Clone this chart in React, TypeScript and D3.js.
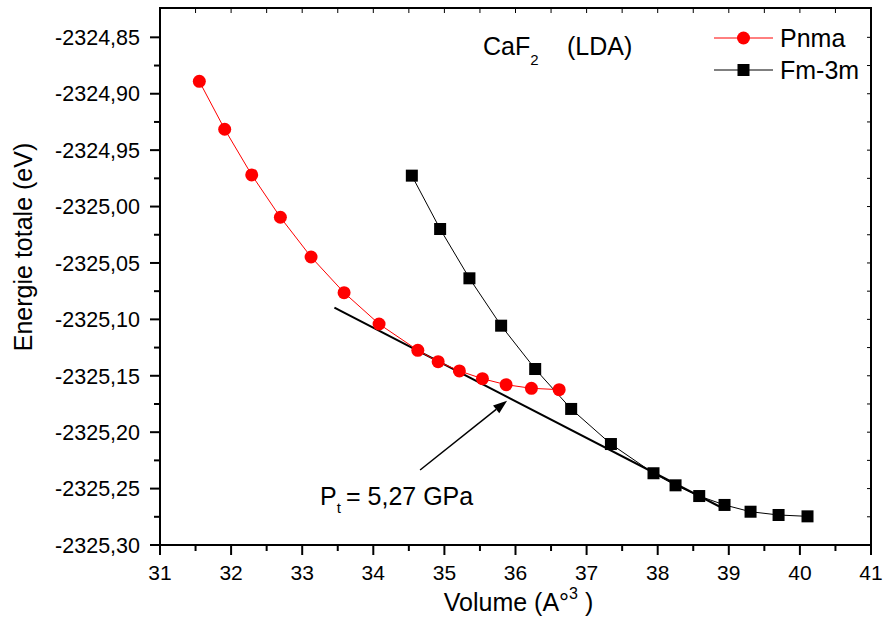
import React from "react";
import * as d3 from "d3";

const pnmaVolume = [31.553, 31.910, 32.290, 32.693, 33.125, 33.589, 34.081, 34.626, 34.912, 35.211, 35.535, 35.868, 36.224, 36.614];
const pnmaEnergy = [-2324.889, -2324.9315, -2324.972, -2325.0095, -2325.0447, -2325.0763, -2325.1041, -2325.1274, -2325.1375, -2325.1457, -2325.1526, -2325.1579, -2325.1611, -2325.1623];

const fm3mVolume = [34.542, 34.940, 35.352, 35.798, 36.277, 36.783, 37.342, 37.941, 38.251, 38.584, 38.940, 39.306, 39.700, 40.107];
const fm3mEnergy = [-2324.9726, -2325.0199, -2325.0636, -2325.1056, -2325.144, -2325.1794, -2325.2105, -2325.2364, -2325.2471, -2325.2566, -2325.2645, -2325.2705, -2325.2734, -2325.2746];

const tangentVolume = [33.453, 38.936];
const tangentEnergy = [-2325.0896, -2325.2681];

const arrowVolume = [34.658, 35.882];
const arrowEnergy = [-2325.2335, -2325.1721];

const xTicks = [31, 32, 33, 34, 35, 36, 37, 38, 39, 40, 41];
const yTicks = [-2324.85, -2324.9, -2324.95, -2325.0, -2325.05, -2325.1, -2325.15, -2325.2, -2325.25, -2325.3];
const yTickLabels = ["-2324,85", "-2324,90", "-2324,95", "-2325,00", "-2325,05", "-2325,10", "-2325,15", "-2325,20", "-2325,25", "-2325,30"];

const seriesNames = ["Pnma", "Fm-3m"];

const W = 884, H = 622;
const M = { left: 160, top: 8, right: 884 - 871, bottom: 622 - 545 };
const FONT = "'Liberation Sans', Arial, Helvetica, sans-serif";

export default function App() {
  const x = d3.scaleLinear().domain([31, 41]).range([M.left, W - M.right]);
  const y = d3.scaleLinear().domain([-2325.3, -2324.824]).range([H - M.bottom, M.top]);
  const x0 = x.range()[0], x1 = x.range()[1];
  const y0 = y.range()[0], y1 = y.range()[1];

  const xMinor = d3.range(31, 41.001, 0.5).filter((v) => Math.abs(v - Math.round(v)) > 0.1);
  const yMinor = d3.range(0, 20).map((i) => -2325.3 + 0.025 + i * 0.05).filter((v) => v < -2324.826);
  const xAll = d3.range(31, 41.001, 0.5);
  const yAll = d3.range(0, 20).map((i) => -2325.3 + i * 0.025).filter((v) => v < -2324.826);

  const line = d3.line<[number, number]>().x((d) => x(d[0])).y((d) => y(d[1]));
  const pnma = pnmaVolume.map((v, i) => [v, pnmaEnergy[i]] as [number, number]);
  const fm3m = fm3mVolume.map((v, i) => [v, fm3mEnergy[i]] as [number, number]);
  const tangent = tangentVolume.map((v, i) => [v, tangentEnergy[i]] as [number, number]);

  const ax0 = x(arrowVolume[0]), ay0 = y(arrowEnergy[0]);
  const ax1 = x(arrowVolume[1]), ay1 = y(arrowEnergy[1]);
  const ang = Math.atan2(ay1 - ay0, ax1 - ax0);
  const headL = 14, headW = 5;
  const bx = ax1 - headL * Math.cos(ang), by = ay1 - headL * Math.sin(ang);
  const head = [
    [ax1, ay1],
    [bx + headW * Math.sin(ang), by - headW * Math.cos(ang)],
    [bx - headW * Math.sin(ang), by + headW * Math.cos(ang)],
  ].map((p) => p.join(",")).join(" ");

  const legX0 = 714, legX1 = 773, legXm = (legX0 + legX1) / 2;

  return (
    <svg width={W} height={H} style={{ position: "absolute", left: 0, top: 0, background: "#fff" }} fontFamily={FONT}>
      <rect x={0} y={0} width={W} height={H} fill="#fff" />
      {/* tangent line */}
      <path d={line(tangent) || ""} stroke="#000" strokeWidth={2} fill="none" />
      {/* Fm-3m */}
      <path d={line(fm3m) || ""} stroke="#000" strokeWidth={1} fill="none" />
      {fm3m.map((d, i) => (
        <rect key={"s" + i} x={x(d[0]) - 6} y={y(d[1]) - 6} width={12} height={12} fill="#000" />
      ))}
      {/* Pnma */}
      <path d={line(pnma) || ""} stroke="#ff0000" strokeWidth={1} fill="none" />
      {pnma.map((d, i) => (
        <circle key={"c" + i} cx={x(d[0])} cy={y(d[1])} r={6.5} fill="#ff0000" />
      ))}
      {/* arrow */}
      <line x1={ax0} y1={ay0} x2={bx} y2={by} stroke="#000" strokeWidth={1.5} />
      <polygon points={head} fill="#000" />

      {/* frame */}
      <rect x={x0} y={y1} width={x1 - x0} height={y0 - y1} fill="none" stroke="#000" strokeWidth={2} />
      {/* bottom ticks */}
      {xTicks.map((t) => (
        <line key={"xt" + t} x1={x(t)} x2={x(t)} y1={y0} y2={y0 + 10} stroke="#000" strokeWidth={2} />
      ))}
      {xMinor.map((t) => (
        <line key={"xm" + t} x1={x(t)} x2={x(t)} y1={y0} y2={y0 + 6} stroke="#000" strokeWidth={2} />
      ))}
      {/* top ticks (inward) */}
      {xAll.map((t) => (
        <line key={"xtt" + t} x1={x(t)} x2={x(t)} y1={y1} y2={y1 + 5} stroke="#000" strokeWidth={1} />
      ))}
      {/* left ticks */}
      {yTicks.map((t) => (
        <line key={"yt" + t} x1={x0 - 10} x2={x0} y1={y(t)} y2={y(t)} stroke="#000" strokeWidth={2} />
      ))}
      {yMinor.map((t) => (
        <line key={"ym" + t} x1={x0 - 6} x2={x0} y1={y(t)} y2={y(t)} stroke="#000" strokeWidth={2} />
      ))}
      {/* right ticks (inward) */}
      {yAll.map((t) => (
        <line key={"yr" + t} x1={x1 - 4} x2={x1} y1={y(t)} y2={y(t)} stroke="#000" strokeWidth={1} />
      ))}
      {/* tick labels */}
      {xTicks.map((t) => (
        <text key={"xl" + t} x={x(t)} y={y0 + 35} textAnchor="middle" fontSize={21} fill="#000">{t}</text>
      ))}
      {yTicks.map((t, i) => (
        <text key={"yl" + t} x={x0 - 20} y={y(t)} dy="0.36em" textAnchor="end" fontSize={21.5} fill="#000">{yTickLabels[i]}</text>
      ))}
      {/* axis titles */}
      <text x={(x0 + x1) / 2 + 3} y={611} textAnchor="middle" fontSize={25} fill="#000">
        Volume (A°<tspan dy={-12} fontSize={16}>3</tspan><tspan dy={12}> )</tspan>
      </text>
      <text transform={`translate(${32},${247}) rotate(-90)`} textAnchor="middle" fontSize={25} fill="#000">
        Energie totale (eV)
      </text>
      {/* title */}
      <text x={483} y={55} fontSize={25} fill="#000">
        CaF<tspan dy={10} fontSize={15}>2</tspan><tspan dy={-10} x={567}>(LDA)</tspan>
      </text>
      {/* annotation */}
      <text x={320} y={505} fontSize={25} fill="#000">
        P<tspan dy={8} fontSize={15}>t</tspan><tspan dy={-8} x={346}>= 5,27 GPa</tspan>
      </text>
      {/* legend */}
      <line x1={legX0} x2={legX1} y1={38} y2={38} stroke="#ff0000" strokeWidth={1} />
      <circle cx={legXm} cy={38} r={6.5} fill="#ff0000" />
      <text x={780} y={47} fontSize={25} fill="#000">{seriesNames[0]}</text>
      <line x1={legX0} x2={legX1} y1={70} y2={70} stroke="#000" strokeWidth={1} />
      <rect x={legXm - 6} y={64} width={12} height={12} fill="#000" />
      <text x={780} y={79} fontSize={25} fill="#000">{seriesNames[1]}</text>
    </svg>
  );
}
